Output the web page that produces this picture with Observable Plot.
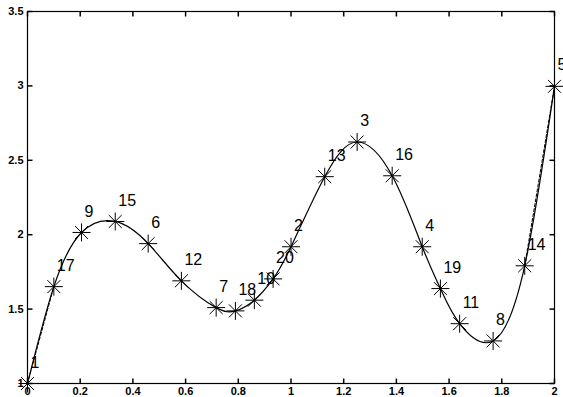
<!DOCTYPE html>
<html><head><meta charset="utf-8">
<script src="https://cdn.jsdelivr.net/npm/d3@7"></script>
<script src="https://cdn.jsdelivr.net/npm/@observablehq/plot@0.6"></script>
<style>body{margin:0;background:#fff}</style>
</head><body><div id="chart"></div>
<script>
const labels = [1,2,3,4,5,6,7,8,9,10,11,12,13,14,15,16,17,18,19,20];
const xs = [0, 1.0, 1.251, 1.498, 2.0, 0.458, 0.716, 1.767, 0.205, 0.861, 1.640, 0.584, 1.128, 1.887, 0.333, 1.384, 0.100, 0.789, 1.567, 0.932];
const ys = [1.0, 1.919, 2.623, 1.919, 2.997, 1.94, 1.51, 1.286, 2.015, 1.56, 1.402, 1.69, 2.39, 1.791, 2.089, 2.396, 1.651, 1.488, 1.638, 1.703];
const xTicks = [0, 0.2, 0.4, 0.6, 0.8, 1, 1.2, 1.4, 1.6, 1.8, 2];
const yTicks = [1, 1.5, 2, 2.5, 3, 3.5];

const pts = labels.map((l, i) => ({label: l, x: xs[i], y: ys[i]}));
const sorted = pts.slice().sort((a, b) => a.x - b.x);

const star = {draw(ctx, size) {
  const r = Math.sqrt(size / Math.PI), d = r * 0.72;
  ctx.moveTo(-r, 0); ctx.lineTo(r, 0);
  ctx.moveTo(0, -r); ctx.lineTo(0, r);
  ctx.moveTo(-d, -d); ctx.lineTo(d, d);
  ctx.moveTo(-d, d); ctx.lineTo(d, -d);
}};
const L = 5;
const tickUp = {draw(ctx) { ctx.moveTo(0, 0); ctx.lineTo(0, -L); }};
const tickDown = {draw(ctx) { ctx.moveTo(0, 0); ctx.lineTo(0, L); }};
const tickRight = {draw(ctx) { ctx.moveTo(0, 0); ctx.lineTo(L, 0); }};
const tickLeft = {draw(ctx) { ctx.moveTo(0, 0); ctx.lineTo(-L, 0); }};

const chart = Plot.plot({
  width: 563, height: 397,
  marginLeft: 27, marginRight: 9, marginTop: 11, marginBottom: 14,
  style: {fontFamily: "'Liberation Sans', Arial, sans-serif", background: "#fff"},
  x: {domain: [0, 2]},
  y: {domain: [1, 3.5]},
  marks: [
    Plot.frame({stroke: "black", strokeWidth: 1.2}),
    Plot.dot(xTicks, {x: d => d, frameAnchor: "bottom", symbol: tickUp, stroke: "black", r: 2}),
    Plot.dot(xTicks, {x: d => d, frameAnchor: "top", symbol: tickDown, stroke: "black", r: 2}),
    Plot.dot(yTicks, {y: d => d, frameAnchor: "left", symbol: tickRight, stroke: "black", r: 2}),
    Plot.dot(yTicks, {y: d => d, frameAnchor: "right", symbol: tickLeft, stroke: "black", r: 2}),
    Plot.axisX(xTicks, {tickSize: 0, tickPadding: 4, tickFormat: d => String(d), fontSize: 11, fontWeight: "bold", label: null}),
    Plot.axisY(yTicks, {tickSize: 0, tickPadding: 4, tickFormat: d => String(d), fontSize: 11, fontWeight: "bold", label: null}),
    Plot.line(sorted.slice(0, 2), {x: "x", y: "y", stroke: "black", strokeWidth: 1, strokeDasharray: "3,2"}),
    Plot.line(sorted.slice(-2), {x: "x", y: "y", stroke: "black", strokeWidth: 1, strokeDasharray: "3,2"}),
    Plot.line(sorted, {x: "x", y: "y", curve: "natural", stroke: "black", strokeWidth: 1.2}),
    Plot.dot(pts, {x: "x", y: "y", symbol: star, r: 9, stroke: "black", strokeWidth: 1}),
    Plot.text(pts, {x: "x", y: "y", text: d => String(d.label), dx: 3, dy: -21, textAnchor: "start", fontSize: 16, fill: "black"})
  ]
});
document.getElementById("chart").appendChild(chart);
</script>
</body></html>
